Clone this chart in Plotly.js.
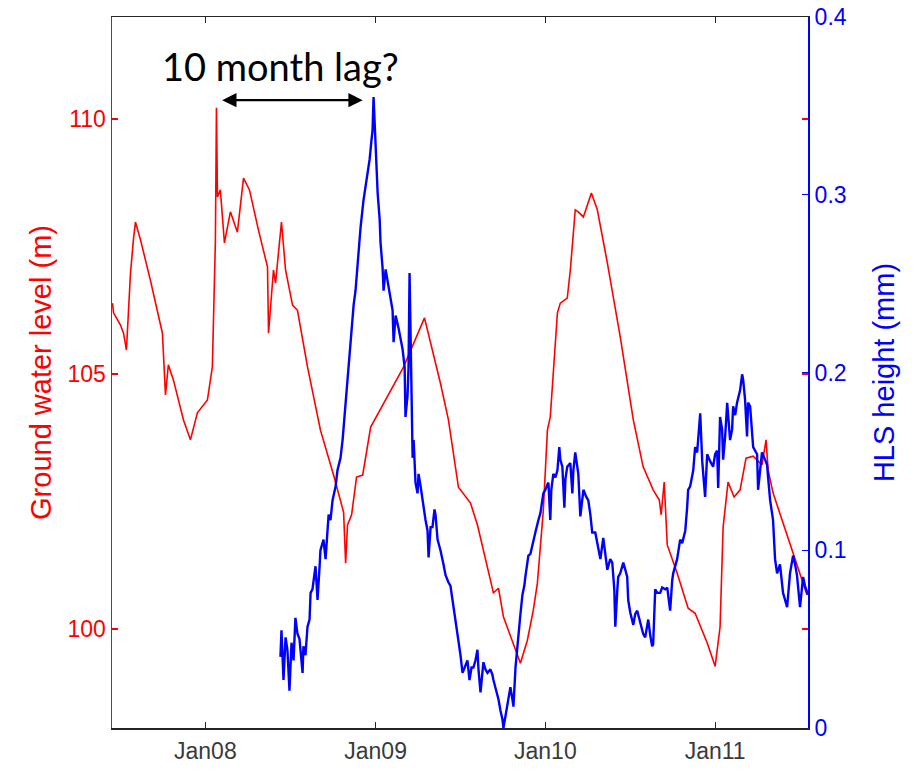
<!DOCTYPE html>
<html>
<head>
<meta charset="utf-8">
<script src="https://cdn.plot.ly/plotly-3.0.1.min.js"></script>
<style>html,body{margin:0;padding:0;background:#fff;}#chart{width:916px;height:771px;}</style>
</head>
<body>
<div id="chart"></div>
<script>
// Ground water level (m), time as decimal year
const gwYear = [2007.453,2007.459,2007.500,2007.518,2007.535,2007.559,2007.576,2007.588,2007.618,2007.676,2007.747,2007.753,2007.765,2007.782,2007.812,2007.871,2007.912,2007.953,2008.012,2008.041,2008.047,2008.059,2008.065,2008.071,2008.088,2008.112,2008.147,2008.188,2008.224,2008.259,2008.312,2008.365,2008.371,2008.400,2008.412,2008.447,2008.471,2008.512,2008.541,2008.600,2008.676,2008.753,2008.812,2008.824,2008.835,2008.859,2008.888,2008.924,2008.971,2009.165,2009.288,2009.382,2009.429,2009.488,2009.559,2009.600,2009.694,2009.724,2009.753,2009.853,2009.894,2009.929,2009.953,2009.988,2010.012,2010.029,2010.071,2010.088,2010.129,2010.147,2010.176,2010.194,2010.224,2010.271,2010.306,2010.365,2010.441,2010.518,2010.576,2010.635,2010.671,2010.682,2010.700,2010.718,2010.776,2010.841,2010.882,2010.953,2011.000,2011.029,2011.047,2011.076,2011.112,2011.147,2011.182,2011.224,2011.276,2011.300,2011.312,2011.341,2011.459,2011.541];
const gwLevel = [106.39,106.20,105.96,105.80,105.47,106.98,107.63,107.98,107.63,106.84,105.80,105.47,104.59,105.18,104.88,104.10,103.71,104.24,104.49,105.14,106.00,107.63,110.22,108.47,108.61,107.57,108.18,107.78,108.84,108.61,107.82,107.10,105.80,107.04,106.78,107.98,107.04,106.35,106.25,105.14,103.90,103.02,102.29,101.29,102.04,102.24,102.98,103.02,103.96,105.14,106.10,104.82,104.10,102.78,102.47,102.04,100.71,100.80,100.24,99.33,99.78,100.37,100.90,102.33,103.90,104.16,106.20,106.39,106.49,107.04,108.22,108.18,108.08,108.55,108.22,107.18,105.73,104.10,103.18,102.73,102.53,102.24,102.88,101.65,101.10,100.41,100.31,99.73,99.27,100.04,102.00,102.88,102.59,102.73,103.35,103.39,103.22,103.71,103.12,102.67,101.49,100.67];

// HLS height (mm), time as decimal year
const hlsYear = [2008.441,2008.447,2008.459,2008.471,2008.482,2008.494,2008.506,2008.518,2008.529,2008.541,2008.553,2008.571,2008.576,2008.588,2008.600,2008.612,2008.618,2008.629,2008.647,2008.659,2008.671,2008.676,2008.694,2008.706,2008.724,2008.735,2008.747,2008.765,2008.776,2008.794,2008.806,2008.812,2008.824,2008.835,2008.841,2008.853,2008.871,2008.882,2008.894,2008.912,2008.929,2008.941,2008.953,2008.965,2008.976,2008.982,2008.988,2008.994,2009.000,2009.012,2009.024,2009.029,2009.041,2009.047,2009.059,2009.076,2009.088,2009.100,2009.106,2009.118,2009.135,2009.147,2009.159,2009.171,2009.176,2009.188,2009.194,2009.200,2009.206,2009.212,2009.218,2009.224,2009.235,2009.247,2009.253,2009.265,2009.282,2009.294,2009.306,2009.312,2009.324,2009.335,2009.347,2009.353,2009.365,2009.382,2009.400,2009.412,2009.429,2009.441,2009.453,2009.471,2009.482,2009.500,2009.512,2009.529,2009.541,2009.553,2009.565,2009.576,2009.588,2009.600,2009.606,2009.618,2009.629,2009.635,2009.647,2009.659,2009.676,2009.688,2009.694,2009.712,2009.724,2009.735,2009.747,2009.753,2009.765,2009.776,2009.788,2009.794,2009.806,2009.812,2009.824,2009.835,2009.841,2009.853,2009.865,2009.876,2009.882,2009.900,2009.912,2009.929,2009.941,2009.959,2009.971,2009.988,2010.000,2010.012,2010.018,2010.029,2010.035,2010.047,2010.059,2010.071,2010.082,2010.088,2010.100,2010.112,2010.118,2010.129,2010.147,2010.159,2010.165,2010.176,2010.194,2010.206,2010.218,2010.224,2010.241,2010.253,2010.265,2010.276,2010.294,2010.306,2010.324,2010.341,2010.353,2010.365,2010.382,2010.394,2010.406,2010.412,2010.424,2010.429,2010.441,2010.459,2010.471,2010.482,2010.488,2010.500,2010.518,2010.529,2010.541,2010.559,2010.576,2010.588,2010.606,2010.618,2010.629,2010.635,2010.647,2010.659,2010.676,2010.688,2010.706,2010.718,2010.735,2010.747,2010.753,2010.776,2010.794,2010.806,2010.824,2010.835,2010.841,2010.853,2010.871,2010.882,2010.894,2010.912,2010.924,2010.941,2010.953,2010.971,2010.988,2011.000,2011.012,2011.018,2011.029,2011.041,2011.047,2011.059,2011.071,2011.088,2011.100,2011.106,2011.118,2011.129,2011.147,2011.159,2011.165,2011.176,2011.188,2011.194,2011.206,2011.224,2011.235,2011.247,2011.253,2011.265,2011.276,2011.294,2011.306,2011.312,2011.324,2011.335,2011.341,2011.353,2011.365,2011.382,2011.394,2011.400,2011.412,2011.424,2011.441,2011.459,2011.471,2011.482,2011.500,2011.518,2011.529,2011.547];
const hlsHeight = [0.040,0.055,0.027,0.051,0.044,0.021,0.048,0.038,0.062,0.053,0.050,0.031,0.046,0.041,0.057,0.061,0.076,0.078,0.091,0.072,0.091,0.100,0.106,0.095,0.120,0.117,0.128,0.136,0.145,0.152,0.162,0.169,0.185,0.201,0.204,0.221,0.238,0.246,0.262,0.282,0.297,0.305,0.314,0.320,0.331,0.336,0.355,0.342,0.323,0.301,0.286,0.273,0.259,0.246,0.258,0.248,0.241,0.235,0.217,0.232,0.225,0.218,0.213,0.203,0.175,0.187,0.203,0.256,0.224,0.177,0.152,0.162,0.138,0.132,0.143,0.136,0.124,0.117,0.111,0.096,0.113,0.113,0.123,0.120,0.106,0.100,0.092,0.086,0.082,0.080,0.072,0.061,0.052,0.041,0.031,0.035,0.038,0.027,0.034,0.034,0.038,0.044,0.033,0.020,0.034,0.037,0.033,0.031,0.033,0.030,0.027,0.021,0.016,0.010,0.005,0.000,0.007,0.012,0.021,0.023,0.016,0.012,0.034,0.047,0.053,0.064,0.075,0.080,0.085,0.097,0.098,0.106,0.110,0.117,0.121,0.132,0.134,0.137,0.138,0.117,0.134,0.143,0.141,0.145,0.158,0.151,0.147,0.124,0.140,0.147,0.149,0.132,0.145,0.155,0.143,0.119,0.131,0.134,0.130,0.128,0.120,0.110,0.110,0.103,0.095,0.107,0.097,0.089,0.095,0.093,0.078,0.057,0.078,0.085,0.087,0.093,0.089,0.085,0.072,0.065,0.058,0.064,0.066,0.059,0.053,0.051,0.061,0.052,0.046,0.047,0.078,0.076,0.076,0.079,0.078,0.079,0.066,0.083,0.087,0.095,0.106,0.104,0.111,0.124,0.134,0.136,0.145,0.158,0.155,0.177,0.150,0.130,0.154,0.150,0.147,0.154,0.156,0.135,0.175,0.168,0.151,0.164,0.183,0.162,0.168,0.181,0.176,0.183,0.190,0.199,0.196,0.185,0.164,0.183,0.181,0.158,0.156,0.154,0.134,0.145,0.155,0.151,0.148,0.141,0.128,0.121,0.117,0.095,0.087,0.092,0.080,0.076,0.072,0.068,0.087,0.097,0.092,0.086,0.068,0.085,0.080,0.075];

const tickYears = [2008, 2009, 2010, 2011];
const tickLabels = ['Jan08', 'Jan09', 'Jan10', 'Jan11'];
const xRangeYears = [2007.45, 2011.547];

function yearToDate(v) {
  const y = Math.floor(v);
  const a = Date.UTC(y, 0, 1), b = Date.UTC(y + 1, 0, 1);
  const d = new Date(a + (v - y) * (b - a));
  return d.toISOString().replace('T', ' ').slice(0, 19);
}

const red = '#ff0000', blue = '#0000ff', frame = '#262626';
const FAM = 'Liberation Sans, Arial, sans-serif';
const TICK = 23, TITLE = 29;

const traces = [
  {x: gwYear.map(yearToDate), y: gwLevel, type: 'scatter', mode: 'lines',
   line: {color: red, width: 1.6}, yaxis: 'y', hoverinfo: 'skip'},
  {x: hlsYear.map(yearToDate), y: hlsHeight, type: 'scatter', mode: 'lines',
   line: {color: blue, width: 2.4}, yaxis: 'y2', hoverinfo: 'skip'}
];

const layout = {
  width: 916, height: 771,
  margin: {l: 111.5, r: 108, t: 17, b: 43, pad: 0},
  paper_bgcolor: '#fff', plot_bgcolor: '#fff',
  showlegend: false,
  xaxis: {
    type: 'date', range: xRangeYears.map(yearToDate),
    tickvals: tickYears.map(yearToDate), ticktext: tickLabels,
    ticks: 'inside', ticklen: 6, tickwidth: 1.2, tickcolor: frame,
    showline: true, linecolor: frame, linewidth: 1.5, mirror: 'ticks',
    showgrid: false, zeroline: false, ticklabelstandoff: 2,
    tickfont: {family: FAM, size: TICK, color: '#3a3a3a'}
  },
  yaxis: {
    range: [98.06, 112], tickvals: [100, 105, 110],
    ticks: 'inside', ticklen: 6, tickwidth: 1.2, tickcolor: red,
    showline: true, linecolor: red, linewidth: 1.5, mirror: 'ticks',
    showgrid: false, zeroline: false,
    tickfont: {family: FAM, size: TICK, color: red},
    title: {text: 'Ground water level (m)', font: {family: FAM, size: TITLE, color: red}, standoff: 7}
  },
  yaxis2: {
    overlaying: 'y', side: 'right', range: [0, 0.4],
    tickvals: [0, 0.1, 0.2, 0.3, 0.4], ticktext: ['0', '0.1', '0.2', '0.3', '0.4'],
    ticks: 'inside', ticklen: 6, tickwidth: 1.2, tickcolor: blue,
    showline: true, linecolor: blue, linewidth: 2,
    showgrid: false, zeroline: false,
    tickfont: {family: FAM, size: TICK, color: blue},
    title: {text: 'HLS height (mm)', font: {family: FAM, size: TITLE, color: blue}, standoff: 28}
  },
  annotations: [
    {xref: 'x', yref: 'y', x: yearToDate(2008.924), y: 110.37,
     axref: 'pixel', ayref: 'pixel', ax: -142, ay: 0,
     showarrow: true, arrowhead: 2, startarrowhead: 2, arrowside: 'end+start',
     arrowsize: 1.3, startarrowsize: 1.3, arrowwidth: 2.2, arrowcolor: '#000', text: ''},
    {xref: 'paper', yref: 'paper', x: 0.242, y: 0.931, xanchor: 'center', yanchor: 'middle',
     showarrow: false, text: '10 month lag?',
     font: {family: 'Lato, Open Sans, sans-serif', size: 38, color: '#000'}}
  ]
};

Plotly.newPlot('chart', traces, layout, {staticPlot: true, displayModeBar: false});
</script>
</body>
</html>
